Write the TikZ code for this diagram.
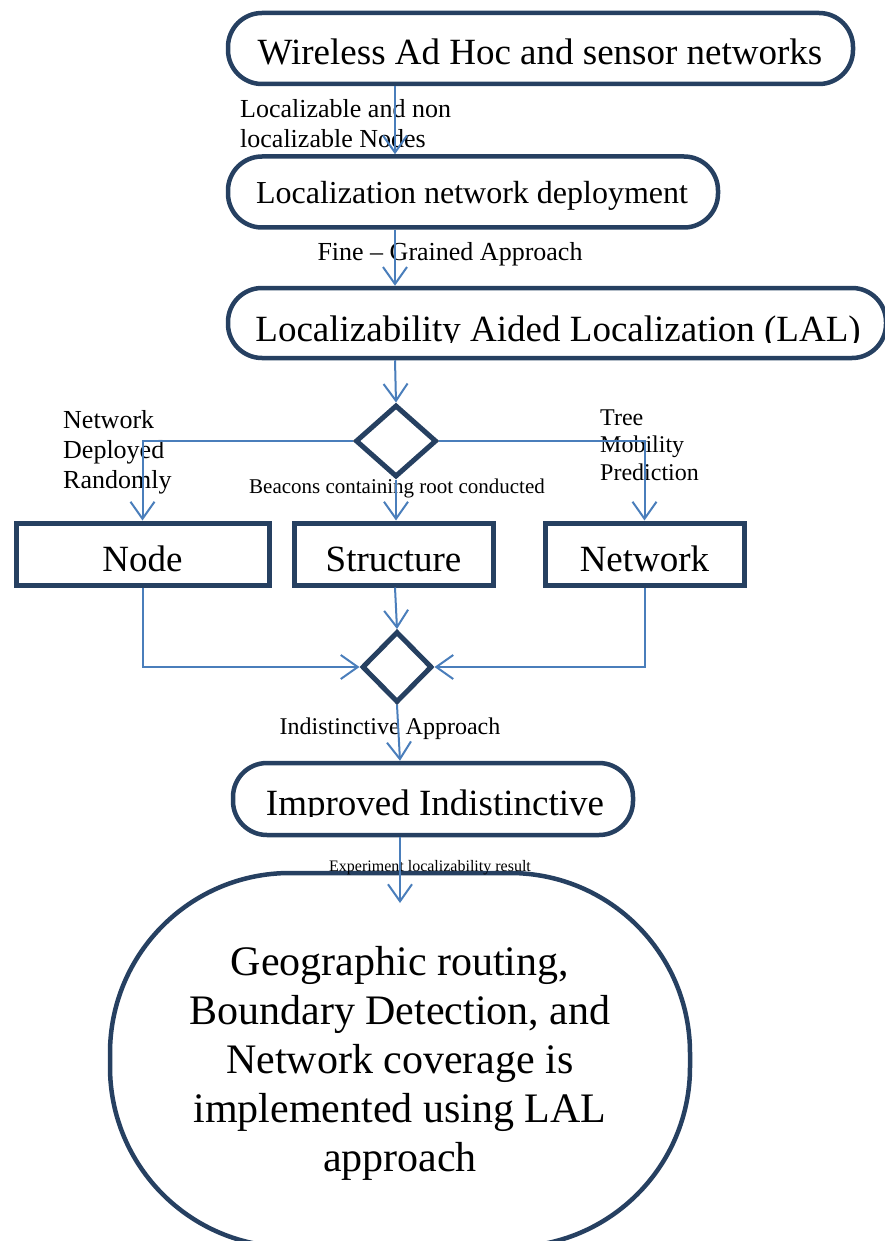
\documentclass[tikz,border=0pt]{standalone}
\usepackage{fontspec}
\setmainfont{Liberation Serif}
\usetikzlibrary{arrows.meta,shapes.geometric}
\definecolor{navy}{RGB}{38,64,97}
\definecolor{arrblue}{RGB}{74,126,187}
\newcommand\fs[1]{\fontsize{#1}{#1}\selectfont}
\newcommand\leftlines[2]{\vtop{\baselineskip=#1\lineskiplimit=-100pt\lineskip=0pt\let\\\cr\halign{##\hfil\cr #2\crcr}}}
\newcommand\centerlines[2]{\vtop{\baselineskip=#1\lineskiplimit=-100pt\lineskip=0pt\let\\\cr\halign{\hfil##\hfil\cr #2\crcr}}}
\begin{document}
\begin{tikzpicture}[x=1pt,y=-1pt,
  stadium/.style={draw=navy,line width=4.5pt,rounded corners=34pt,inner sep=0pt,minimum height=71pt},
  sqbox/.style={draw=navy,line width=5pt,inner sep=0pt,minimum height=62pt},
  decision/.style={draw=navy,line width=5pt,shape=diamond,inner sep=0pt},
  arr/.style={draw=arrblue,line width=2pt,-{Straight Barb[length=17pt,width=24pt,line width=2pt]}},
  txt/.style={inner sep=0pt,anchor=base}]
\useasboundingbox (0,0) rectangle (884,1241);
% boxes
\node[stadium,minimum width=625pt] (b1) at (540.5,48.5) {};
\node[stadium,minimum width=490pt] (b2) at (473,192) {};
\node[stadium,minimum width=658pt,minimum height=70pt] (b3) at (557,323) {};
\node[decision,minimum width=81pt,minimum height=72pt] (d1) at (396,441) {};
\node[sqbox,minimum width=253pt] (nd) at (142.5,554) {};
\node[sqbox,minimum width=199pt] (st) at (393.5,554) {};
\node[sqbox,minimum width=199pt] (nw) at (644.5,554) {};
\node[decision,minimum width=70pt,minimum height=71pt] (d2) at (397,667) {};
\node[stadium,minimum width=400pt,minimum height=72pt] (imp) at (433,799) {};
\node[draw=navy,line width=4.5pt,rounded corners=180pt,inner sep=0pt,minimum width=580pt,minimum height=374pt] (big) at (400,1060) {};
% texts in boxes
\node[txt] (t1) at (540,65) {\fs{37}Wireless Ad Hoc and sensor networks};
\node[txt] (t2) at (472,204) {\fs{32}Localization network deployment};
\begin{scope}
\clip (200,280) rectangle (884,342);
\node[txt] (t3) at (558,341) {\fs{37}Localizability Aided Localization (LAL)};
\end{scope}
\node[txt] (tn) at (142.5,571) {\fs{37}Node};
\node[txt] (ts) at (393.5,571) {\fs{37}Structure};
\node[txt] (tw) at (644.5,571) {\fs{37}Network};
\begin{scope}
\clip (200,770) rectangle (700,816);
\node[txt] (ti) at (435,815) {\fs{37}Improved Indistinctive};
\end{scope}
\node[txt] (tb) at (400,975) {\fs{42}\centerlines{49pt}{Geographic routing,\\Boundary Detection, and\\Network coverage is\\implemented using LAL\\approach}};
% connector labels
\node[txt,anchor=base west] (l1) at (240,118) {\fs{26}\leftlines{30pt}{Localizable and non\\localizable Nodes}};
\node[txt] (l2) at (450,261) {\fs{26}Fine -- Grained Approach};
\node[txt,anchor=base west] (l3) at (63,428) {\fs{26}\leftlines{30pt}{Network\\Deployed\\Randomly}};
\node[txt,anchor=base west] (l4) at (600,425) {\fs{24}\leftlines{27.5pt}{Tree\\Mobility\\Prediction}};
\node[txt] (l5) at (397,493) {\fs{21}Beacons containing root conducted};
\node[txt] (l6) at (390,734) {\fs{24}Indistinctive Approach};
\node[txt] (l7) at (430,871) {\fs{16}Experiment localizability result};
% connectors
\coordinate (ax) at (395,0);
\coordinate (ax2) at (400,0);
\coordinate (tipend) at (400,903);
\draw[arr] (b1.south -| ax) -- (b2.north -| ax);
\draw[arr] (b2.south -| ax) -- (b3.north -| ax);
\draw[arr] (b3.south -| ax) -- (d1.north);
\draw[arr] (d1.west) -| (nd.north);
\draw[arr] (d1.east) -| (nw.north);
\draw[arr] (d1.south) -- (st.north -| d1.south);
\draw[arr] (nd.south) |- (d2.west);
\draw[arr] (nw.south) |- (d2.east);
\draw[arr] (st.south -| ax) -- (d2.north);
\draw[arr] (d2.south) -- (imp.north -| ax2);
\draw[arr] (imp.south -| ax2) -- (tipend);
\end{tikzpicture}
\end{document}
